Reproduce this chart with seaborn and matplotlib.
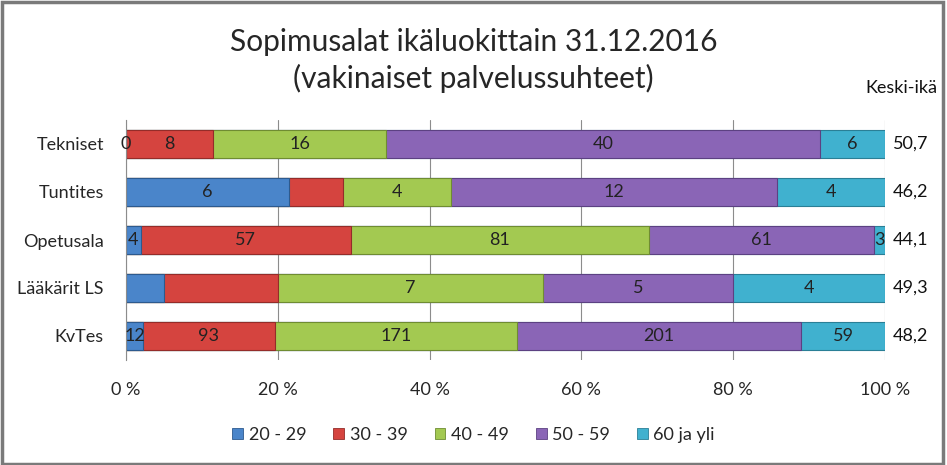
import numpy as np
import pandas as pd
import matplotlib.pyplot as plt
import matplotlib.transforms as mtransforms
from matplotlib.patches import Patch, Rectangle
import seaborn as sns

# === Data ===
groups = ["Tekniset", "Tuntites", "Opetusala", "Lääkärit LS", "KvTes"]
age_classes = ["20 - 29", "30 - 39", "40 - 49", "50 - 59", "60 ja yli"]
n_20_29 = [0, 6, 4, 1, 12]
n_30_39 = [8, 2, 57, 3, 93]
n_40_49 = [16, 4, 81, 7, 171]
n_50_59 = [40, 12, 61, 5, 201]
n_60_plus = [6, 4, 3, 4, 59]
mean_age = ["50,7", "46,2", "44,1", "49,3", "48,2"]
# segment labels that the original leaves out
hidden = [("Tuntites", "30 - 39"), ("Lääkärit LS", "20 - 29"), ("Lääkärit LS", "30 - 39")]
xticks = [0, 20, 40, 60, 80, 100]
xtick_labels = ["0 %", "20 %", "40 %", "60 %", "80 %", "100 %"]

colors = ["#4a85ca", "#d5443f", "#a3c951", "#8a65b6", "#40b1cf"]
edges = ["#2d5a8e", "#942c29", "#6f8c32", "#5c4182", "#2a7f96"]

# === Style ===
sns.set_style("white")
plt.rcParams["font.family"] = ["Lato", "DejaVu Sans"]

counts = pd.DataFrame(dict(zip(age_classes, [n_20_29, n_30_39, n_40_49, n_50_59, n_60_plus])), index=groups)
pct = counts.div(counts.sum(axis=1), axis=0) * 100
cum = pct.cumsum(axis=1)

fig = plt.figure(figsize=(9.47, 4.65), dpi=100)
ax = fig.add_axes([126 / 947, 1 - 360 / 465, (885 - 126) / 947, 240 / 465])

# stacked bars: draw cumulative totals from the right-most class back to the first
for cls, col, ec in reversed(list(zip(age_classes, colors, edges))):
    d = pd.DataFrame({"group": groups, "x": cum[cls].values})
    sns.barplot(data=d, x="x", y="group", orient="h", color=col, saturation=1,
                edgecolor=ec, linewidth=0.8, width=0.58, ax=ax)

# segment labels
for i, g in enumerate(groups):
    for cls in age_classes:
        if (g, cls) in hidden:
            continue
        xc = cum.loc[g, cls] - pct.loc[g, cls] / 2
        ax.text(xc, i, str(counts.loc[g, cls]), ha="center", va="center",
                fontsize=13, color="#222222")

# mean age column
trans = mtransforms.blended_transform_factory(ax.transAxes, ax.transData)
for i, v in enumerate(mean_age):
    ax.text(1.01, i, v, transform=trans, ha="left", va="center", fontsize=13, color="#111111")
fig.text(865 / 947, 1 - 88 / 465, "Keski-ikä", ha="left", va="center", fontsize=13, color="#111111")

ax.set_xlim(0, 100)
ax.set_ylim(4.5, -0.5)
ax.set_xticks(xticks)
ax.set_xticklabels(xtick_labels)
ax.set_xlabel("")
ax.set_ylabel("")
ax.grid(axis="x", color="#8c8c8c", linewidth=0.8)
ax.set_axisbelow(True)
for s in ["top", "right", "bottom"]:
    ax.spines[s].set_visible(False)
ax.spines["left"].set_color("#8c8c8c")
ax.spines["left"].set_linewidth(0.8)
ax.tick_params(axis="x", length=4, color="#8c8c8c", pad=12, labelsize=13)
ax.tick_params(axis="y", length=0, pad=16, labelsize=13)

# title
fig.text(0.5, 1 - 42 / 465, "Sopimusalat ikäluokittain 31.12.2016", ha="center", va="center", fontsize=21.5)
fig.text(0.5, 1 - 78 / 465, "(vakinaiset palvelussuhteet)", ha="center", va="center", fontsize=21.5)

# legend
handles = [Patch(facecolor=c, edgecolor=e, linewidth=0.6) for c, e in zip(colors, edges)]
fig.legend(handles, age_classes, loc="center", bbox_to_anchor=(0.5, 1 - 435 / 465), ncol=5,
           frameon=False, handlelength=0.6, handleheight=0.6, handletextpad=0.3,
           columnspacing=1.5, fontsize=13)

# chart frame
fig.patches.append(Rectangle((0.002, 0.003), 0.994, 0.993, transform=fig.transFigure,
                             fill=False, edgecolor="#7a7a7a", linewidth=2.5))

fig.savefig("out.png", dpi=100)
